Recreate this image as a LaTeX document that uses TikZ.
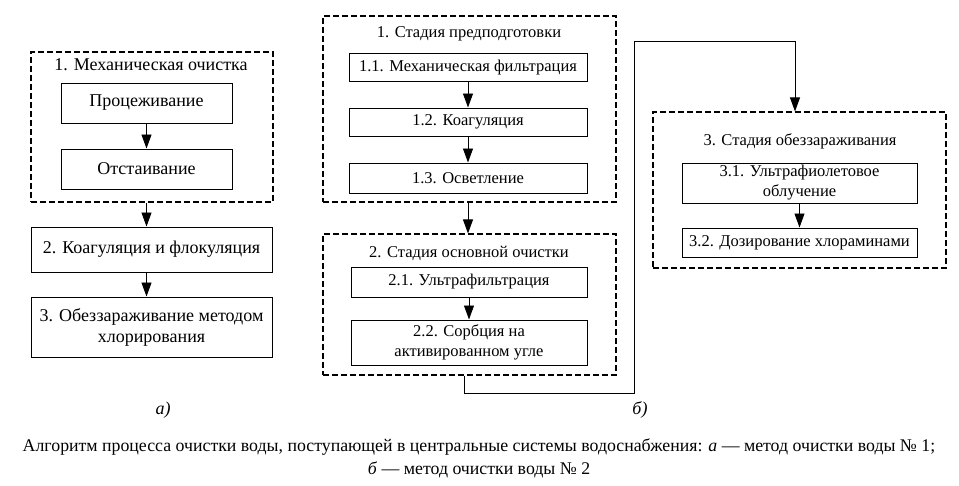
\documentclass[tikz,border=0pt]{standalone}
\usepackage{fontspec}
\setmainfont{Liberation Serif}
\usetikzlibrary{positioning, arrows.meta, calc, fit}

\begin{document}
\begin{tikzpicture}[x=1pt, y=-1pt, font=\fontsize{16.5}{20}\selectfont, line width=0.9pt,
      >={Triangle[length=14pt, width=10pt]},
      box/.style={draw, line width=1pt, align=center, inner sep=1pt},
      grp/.style={draw, line width=1.1pt, dash pattern=on 6pt off 3pt, inner sep=0pt},
      title/.style={inner sep=0pt},
      sublabel/.style={font=\fontsize{18}{21}\selectfont\itshape},
      caption/.style={align=center, inner sep=0pt, font=\fontsize{17.8}{23}\selectfont}]
    \useasboundingbox (0,0) rectangle (959,485);
    % a) method 1
    \begin{scope}[font=\fontsize{18}{21}\selectfont]
    \node[grp, fit={(31,52) (273,202)}] (mech) {};
    \node[title] (mecht) at (151,65) {1. Механическая очистка};
    \node[box, minimum width=171pt, minimum height=40pt] (proc) at (146.5,103) {Процеживание};
    \node[box, minimum width=171pt, minimum height=40pt, below=25pt of proc] (otst) {Отстаивание};
    \node[box, minimum width=241pt, minimum height=45pt] (coag) at (151.5,249.5) {2. Коагуляция и флокуляция};
    \node[box, minimum width=241pt, minimum height=60pt] (dez) at (151.5,327)
      {3. Обеззараживание методом\\хлорирования};
    \end{scope}
    \draw[->] (proc) -- (otst);
    \draw[->] (mech.south -| otst) -- (coag.north -| otst);
    \draw[->] (coag.south -| otst) -- (dez.north -| otst);
    \node[sublabel] (la) at (163,410) {а)};
    % b) method 2
    \node[grp, fit={(323,16) (616,202)}] (pre) {};
    \node[title] (pret) at (469,34) {1. Стадия предподготовки};
    \node[box, minimum width=238pt, minimum height=28pt] (b11) at (468,67.5) {1.1. Механическая фильтрация};
    \node[box, minimum width=238pt, minimum height=28pt] (b12) at (468,122) {1.2. Коагуляция};
    \node[box, minimum width=238pt, minimum height=30pt] (b13) at (468,178) {1.3. Осветление};
    \draw[->] (b11) -- (b12);
    \draw[->] (b12) -- (b13);
    \node[grp, fit={(323,234) (616,375)}] (main) {};
    \node[title] (maint) at (469,253) {2. Стадия основной очистки};
    \node[box, minimum width=236pt, minimum height=30pt] (b21) at (469,282) {2.1. Ультрафильтрация};
    \node[box, minimum width=236pt, minimum height=45pt] (b22) at (469,342.5)
      {2.2. Сорбция на\\активированном угле};
    \draw[->] (b21) -- (b22);
    \draw[->] (pre.south -| b13) -- (main.north -| b13);
    \node[grp, fit={(653,112) (946,268)}] (dis) {};
    \node[title] (dist) at (800,141) {3. Стадия обеззараживания};
    \node[box, minimum width=235pt, minimum height=40pt] (b31) at (799.5,183)
      {3.1. Ультрафиолетовое\\облучение};
    \node[box, minimum width=235pt, minimum height=29pt] (b32) at (799.5,242.5) {3.2. Дозирование хлораминами};
    \draw[->] (b31) -- (b32);
    \coordinate (loop) at (634,41);
    \draw[->] ([xshift=-5pt]main.south) -- ++(0,18) -| (loop) -| ([xshift=-4.5pt]dis.north);
    \node[sublabel] (lb) at (640,410) {б)};
    % caption
    \node[caption] (cap) at (479,458)
      {Алгоритм процесса очистки воды, поступающей в центральные системы водоснабжения: \textit{а} — метод очистки воды №~1;\\
       \textit{б} — метод очистки воды №~2};
  \end{tikzpicture}
\end{document}
